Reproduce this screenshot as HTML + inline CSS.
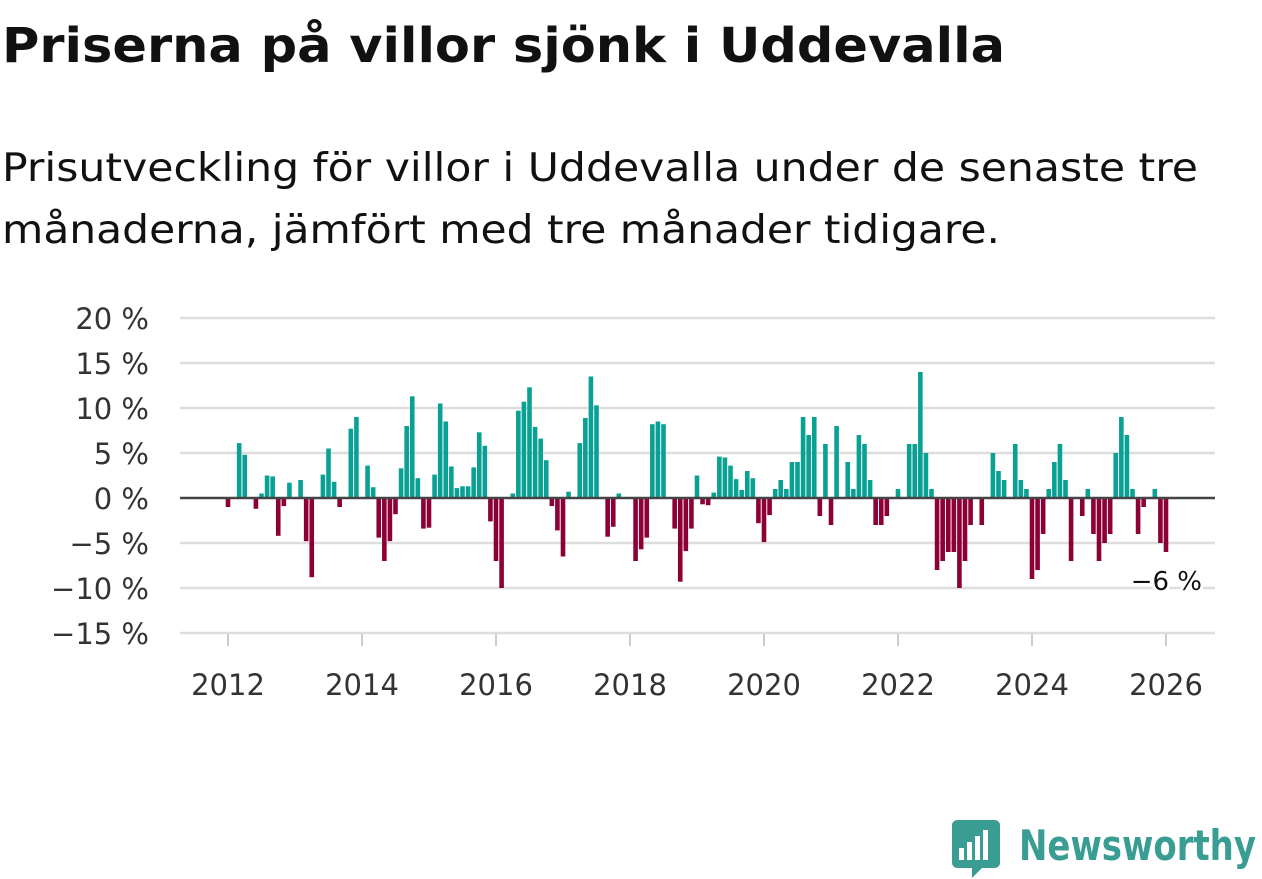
<!DOCTYPE html>
<html><head><meta charset="utf-8"><style>
html,body{margin:0;padding:0;background:#fff;}
svg{display:block;font-family:"DejaVu Sans","Liberation Sans",sans-serif;}
</style></head><body>
<svg id="chart" width="1262" height="879" viewBox="0 0 1262 879">
<text x="2" y="62" font-size="48" font-weight="bold" fill="#111" textLength="1003" lengthAdjust="spacingAndGlyphs">Priserna på villor sjönk i Uddevalla</text>
<text x="2" y="181" font-size="39" fill="#111" textLength="1196" lengthAdjust="spacingAndGlyphs">Prisutveckling för villor i Uddevalla under de senaste tre</text>
<text x="2" y="243" font-size="39" fill="#111" textLength="998" lengthAdjust="spacingAndGlyphs">månaderna, jämfört med tre månader tidigare.</text>
<g id="grid"></g>
<g id="bars"></g>
<g id="axes"></g>
<g>
<path d="M952 826 Q952 820 958 820 L994 820 Q1000 820 1000 826 L1000 862 Q1000 868 994 868 L982 868 L972 878 L972 868 L958 868 Q952 868 952 862 Z" fill="#3a9d93"/>
<rect x="959" y="848" width="5" height="12" fill="#fff"/><rect x="967" y="842" width="5" height="18" fill="#fff"/><rect x="975" y="836" width="5" height="24" fill="#fff"/><rect x="983" y="830" width="5" height="30" fill="#fff"/>
<text x="1019" y="860" font-size="42" font-weight="bold" fill="#3a9d93" textLength="237" lengthAdjust="spacingAndGlyphs">Newsworthy</text>
</g>
</svg>
<script>
const values = [
-1,0,6.1,4.8,0,-1.2,0.5,2.5,2.4,-4.2,-0.9,1.7,
0,2.0,-4.8,-8.8,0,2.6,5.5,1.8,-1,0,7.7,9.0,
0,3.6,1.2,-4.4,-7,-4.8,-1.8,3.3,8.0,11.3,2.2,-3.4,
-3.3,2.6,10.5,8.5,3.5,1.1,1.3,1.3,3.4,7.3,5.8,-2.6,
-7,-10,0,0.5,9.7,10.7,12.3,7.9,6.6,4.2,-0.9,-3.6,
-6.5,0.7,0,6.1,8.9,13.5,10.3,0,-4.3,-3.2,0.5,0,
0,-7,-5.7,-4.4,8.2,8.5,8.2,0,-3.4,-9.3,-5.9,-3.4,
2.5,-0.7,-0.8,0.6,4.6,4.5,3.6,2.1,0.9,3.0,2.2,-2.8,
-4.9,-1.9,1,2,1,4,4,9,7,9,-2,6,
-3,8,0,4,1,7,6,2,-3,-3,-2,0,
1,0,6,6,14,5,1,-8,-7,-6,-6,-10,
-7,-3,0,-3,0,5,3,2,0,6,2,1,
-9,-8,-4,1,4,6,2,-7,0,-2,1,-4,
-7,-5,-4,5,9,7,1,-4,-1,0,1,-5,
-6];
const startYear = 2012;
const yTicks = [20,15,10,5,0,-5,-10,-15];
const xTickYears = [2012,2014,2016,2018,2020,2022,2024,2026];
const lastLabel = "\u22126 %";

const NS="http://www.w3.org/2000/svg";
const x0=228, monthW=67/12, plotL=180, plotR=1215;
function xScale(i){return x0+i*monthW;}
function yScale(v){return 498-v*9;}
function mk(tag,attrs,parent){const e=document.createElementNS(NS,tag);for(const k in attrs)e.setAttribute(k,attrs[k]);parent.appendChild(e);return e;}
const grid=document.getElementById('grid'), bars=document.getElementById('bars'), axes=document.getElementById('axes');
yTicks.forEach(t=>{
  if(t!==0){const l=mk('line',{x1:plotL,x2:plotR,y1:yScale(t),y2:yScale(t),stroke:'#dddddd','stroke-width':2.5},grid);
  
  }
  const lab=(t<0?"\u2212"+(-t):String(t))+" %";
  const tx=mk('text',{x:149,y:yScale(t)+11,'font-size':29,fill:'#333','text-anchor':'end'},axes);
  tx.textContent=lab;
  
  
});
values.forEach((v,i)=>{
  if(v===0)return;
  const y=yScale(Math.max(v,0)), h=Math.abs(v)*9;
  const r=mk('rect',{x:xScale(i)-2.3,y:y,width:4.6,height:h,fill:v>0?'#0aa195':'#8c0036'},bars);
  
  
});
const z=mk('line',{x1:plotL,x2:plotR,y1:yScale(0),y2:yScale(0),stroke:'#444','stroke-width':2.5},axes);


xTickYears.forEach(yr=>{
  const x=xScale((yr-startYear)*12);
  const t=mk('line',{x1:x,x2:x,y1:634,y2:646,stroke:'#ccc','stroke-width':2},axes);
  
  
  const tx=mk('text',{x:x,y:695,'font-size':29,fill:'#333','text-anchor':'middle'},axes);
  tx.textContent=String(yr);
  
  
});
const li=values.length-1;
const ll=mk('text',{x:xScale(li)+36,y:yScale(values[li])+38,'font-size':26,fill:'#111','text-anchor':'end',stroke:'#fff','stroke-width':6,'paint-order':'stroke'},axes);
ll.textContent=lastLabel;


</script>
</body></html>
